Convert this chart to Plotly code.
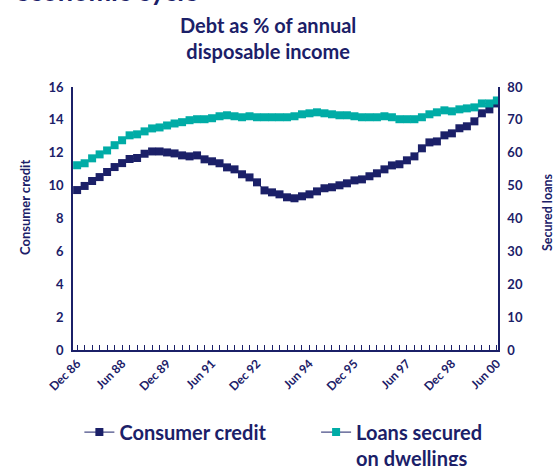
import plotly.graph_objects as go

# Quarterly series, Dec 1986 to mid 2000
consumer_credit = [
    9.73, 9.98, 10.28, 10.52, 10.83, 11.13, 11.37, 11.62, 11.68, 11.94,
    12.08, 12.08, 12.02, 11.96, 11.84, 11.78, 11.84, 11.60, 11.48, 11.36,
    11.11, 10.99, 10.69, 10.50, 10.20, 9.71, 9.59, 9.47, 9.29, 9.23,
    9.35, 9.47, 9.65, 9.84, 9.90, 10.02, 10.14, 10.32, 10.38, 10.57,
    10.75, 10.99, 11.23, 11.30, 11.54, 11.78, 12.27, 12.63, 12.69, 13.06,
    13.18, 13.49, 13.61, 13.91, 14.40, 14.64, 15.00,
]
secured_loans = [
    56.2, 56.8, 58.3, 59.5, 60.7, 62.3, 63.8, 65.3, 65.6, 66.5,
    67.4, 67.7, 68.3, 68.9, 69.3, 69.9, 70.2, 70.2, 70.5, 71.1,
    71.4, 71.1, 70.8, 71.1, 70.8, 70.8, 70.8, 70.8, 70.8, 71.1,
    71.7, 72.0, 72.3, 72.0, 71.7, 71.4, 71.4, 71.1, 70.8, 70.8,
    70.8, 71.1, 70.8, 70.2, 70.2, 70.2, 70.8, 71.7, 72.3, 72.9,
    72.6, 73.2, 73.5, 73.8, 75.0, 75.0, 75.9,
]
period_labels = ["Dec 86", "Jun 88", "Dec 89", "Jun 91", "Dec 92",
                 "Jun 94", "Dec 95", "Jun 97", "Dec 98", "Jun 00"]
label_positions = [0, 6, 12, 18, 24, 31, 37, 44, 50, 56]

NAVY = "#1b2068"
TEAL = "#00aca6"
FONT = "Lato"

W, H = 555, 466
ML, MR, MT, MB = 73, 57, 87, 116

quarters = list(range(len(consumer_credit)))
tick_text = [""] * len(quarters)
for pos, lab in zip(label_positions, period_labels):
    tick_text[pos] = lab

fig = go.Figure()
fig.add_trace(go.Scatter(
    x=quarters, y=consumer_credit, name="Consumer credit",
    mode="lines+markers",
    line=dict(color=NAVY, width=1),
    marker=dict(symbol="square", size=8, color=NAVY),
    yaxis="y", legend="legend",
))
fig.add_trace(go.Scatter(
    x=quarters, y=secured_loans, name="Loans secured<br>on dwellings",
    mode="lines+markers",
    line=dict(color=NAVY, width=1),
    marker=dict(symbol="square", size=8, color=TEAL),
    yaxis="y2", legend="legend2",
))

tickfont = dict(family=FONT, size=13, color=NAVY, weight=700)
legend_font = dict(family=FONT, size=20, color=NAVY, weight=700)


def px_ann(text, x, y, size, **kw):
    """Annotation placed by page pixel position (origin top-left)."""
    opts = dict(xanchor="center", yanchor="middle")
    opts.update(kw)
    return dict(
        text=text, showarrow=False, xref="paper", yref="paper",
        x=(x - ML) / (W - ML - MR), y=(H - MB - y) / (H - MT - MB),
        font=dict(family=FONT, size=size, color=NAVY, weight=700), **opts,
    )


fig.update_layout(
    width=W, height=H,
    margin=dict(l=ML, r=MR, t=MT, b=MB, autoexpand=False),
    paper_bgcolor="white", plot_bgcolor="white",
    font=dict(family=FONT, color=NAVY),
    xaxis=dict(
        range=[-0.55, 56.15],
        tickmode="array", tickvals=quarters, ticktext=tick_text,
        tickangle=-45, tickfont=dict(family=FONT, size=12, color=NAVY, weight=700),
        ticks="inside", ticklen=5, tickwidth=1, tickcolor=NAVY,
        showline=True, linecolor=NAVY, linewidth=2,
        showgrid=False, zeroline=False, automargin=False,
    ),
    yaxis=dict(
        range=[0, 16], dtick=2, tickfont=tickfont,
        showline=True, linecolor=NAVY, linewidth=1.5,
        showgrid=False, zeroline=False, ticks="", ticklabelstandoff=5,
        automargin=False,
    ),
    yaxis2=dict(
        range=[0, 80], dtick=10, tickfont=tickfont,
        overlaying="y", side="right",
        showline=True, linecolor=NAVY, linewidth=1.5,
        showgrid=False, zeroline=False, ticks="", ticklabelstandoff=5,
        automargin=False,
    ),
    showlegend=True,
    legend=dict(
        orientation="h", x=0.015, xanchor="left", y=-0.238, yanchor="top",
        font=legend_font, valign="top", bgcolor="rgba(0,0,0,0)",
    ),
    legend2=dict(
        orientation="h", x=0.572, xanchor="left", y=-0.238, yanchor="top",
        font=legend_font, valign="top", bgcolor="rgba(0,0,0,0)",
    ),
    annotations=[
        px_ann("Debt as % of annual<br>disposable income", 268, 38, 20),
        px_ann("Consumer credit", 25, 208, 13, textangle=-90),
        px_ann("Secured loans", 547, 212, 12.5, textangle=-90),
        px_ann("economic cycle", 13, 9, 27, xanchor="left", yanchor="bottom"),
    ],
)

fig.write_html("out.html")
